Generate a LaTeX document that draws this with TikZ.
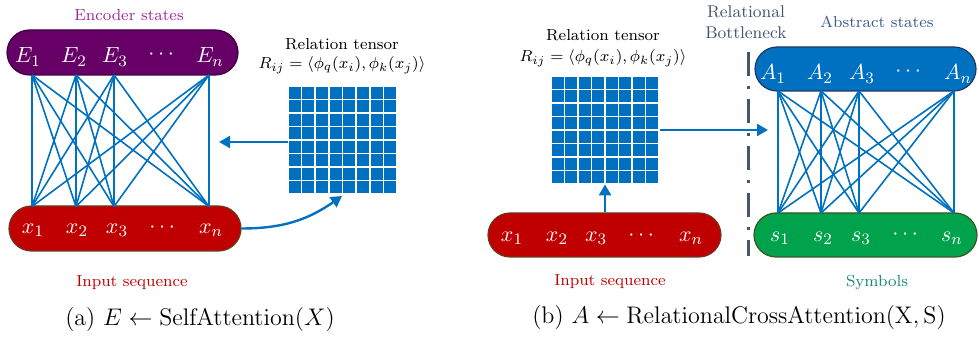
\documentclass[tikz,border=0pt]{standalone}
\usepackage{amsmath}
\usetikzlibrary{shapes.misc,arrows.meta}
\definecolor{encpurple}{HTML}{660066}
\definecolor{encborder}{HTML}{3F0040}
\definecolor{encText}{HTML}{9E2A9B}
\definecolor{inred}{HTML}{C00000}
\definecolor{inborder}{HTML}{6B3A1E}
\definecolor{lineblue}{HTML}{0070C0}
\definecolor{absblue}{HTML}{0070C0}
\definecolor{absborder}{HTML}{1F3864}
\definecolor{absText}{HTML}{3A5A8C}
\definecolor{symgreen}{HTML}{00A24C}
\definecolor{symborder}{HTML}{385723}
\definecolor{symText}{HTML}{178A6E}
\definecolor{bnText}{HTML}{44546A}
\tikzset{
  pill/.style={rounded rectangle, draw=#1, line width=0.6pt, inner sep=0pt},
  tok/.style={text=white, font=\fontsize{11}{13}\selectfont, inner sep=0pt},
  conn/.style={draw=lineblue, line width=0.8pt},
  arr/.style={draw=lineblue, line width=1.2pt, -{Triangle[length=5.5pt,width=6pt]}},
  lab/.style={font=\fontsize{8}{9.5}\selectfont, inner sep=0pt},
  captext/.style={font=\fontsize{12}{14}\selectfont, inner sep=0pt},
  cell/.style={fill=lineblue, draw=none},
  gridbox/.style={draw=none, minimum width=54.5pt, minimum height=54pt, inner sep=0pt}
}
\begin{document}
\begin{tikzpicture}[x=0.5pt,y=-0.5pt]
\useasboundingbox (0,0) rectangle (979,341);

% ---------- Panel (a) ----------
\node[lab, text=encText] (enclab) at (129,15) {Encoder states};
\node[pill=encborder, fill=encpurple, minimum width=115.5pt, minimum height=22.5pt] (enc) at (122.5,52.5) {};
\node[pill=inborder, fill=inred, minimum width=116pt, minimum height=22.5pt] (inA) at (125,228.5) {};
\node[tok] (E1) at (28,57) {$E_1$};
\node[tok] (E2) at (74,57) {$E_2$};
\node[tok] (E3) at (115,57) {$E_3$};
\node[tok] (Ed) at (163,55) {$\cdots$};
\node[tok] (En) at (210,57) {$E_n$};
\node[tok] (xa1) at (33,230) {$x_1$};
\node[tok] (xa2) at (77,230) {$x_2$};
\node[tok] (xa3) at (117,230) {$x_3$};
\node[tok] (xad) at (164,228) {$\cdots$};
\node[tok] (xan) at (211,230) {$x_n$};
\node[lab, text=inred] (inlabA) at (132,283) {Input sequence};

\foreach \i/\x in {1/32,2/76,3/114,4/209}{
  \coordinate (et\i) at (\x,75);
  \coordinate (eb\i) at (\x,206.5);
}
\foreach \i in {1,...,4}{\foreach \j in {1,...,4}{\draw[conn] (et\i) -- (eb\j);}}

\node[lab] (rtA) at (342,44) {Relation tensor};
\node[lab] (rfA) at (342,65) {$R_{ij}=\langle\phi_q(x_i),\phi_k(x_j)\rangle$};
\node[gridbox] (gA) at (342.5,140) {};
\foreach \r in {0,...,7}{\foreach \c in {0,...,7}{
  \fill[cell] (288+\c*13.625+0.8,86+\r*13.5+0.8) rectangle ++(12.0,11.9);}}
\coordinate (arrAend) at (219,142);
\draw[arr] (gA.west |- arrAend) -- (arrAend);
\coordinate (curveEnd) at (342,196);
\draw[arr] (inA.east) to[out=0,in=-145] (curveEnd);

\node[captext] (capA) at (200,320) {(a) $E \leftarrow \mathrm{SelfAttention}(X)$};

% ---------- Panel (b) ----------
\node[lab, text=bnText, align=center, font=\fontsize{8.5}{10.5}\selectfont] (bn) at (746,22) {Relational\\Bottleneck};
\coordinate (bnTop) at (748,52);
\coordinate (bnBot) at (748,256);
\draw[bnText, line width=1.5pt, dash pattern=on 12pt off 5pt on 1.5pt off 5pt] (bnTop) -- (bnBot);

\node[lab, text=absText] (abslab) at (877,22) {Abstract states};
\node[pill=absborder, fill=absblue, minimum width=110.5pt, minimum height=22pt] (abs) at (865.5,69) {};
\node[pill=symborder, fill=symgreen, minimum width=111.5pt, minimum height=22pt] (sym) at (865.5,235) {};
\node[pill=inborder, fill=inred, minimum width=116.5pt, minimum height=22pt] (inB) at (604.5,235) {};

\node[tok] (A1) at (773,74) {$A_1$};
\node[tok] (A2) at (820,74) {$A_2$};
\node[tok] (A3) at (862,74) {$A_3$};
\node[tok] (Ad) at (910,72) {$\cdots$};
\node[tok] (An) at (958,74) {$A_n$};
\node[tok] (s1) at (780,238) {$s_1$};
\node[tok] (s2) at (823,238) {$s_2$};
\node[tok] (s3) at (861,238) {$s_3$};
\node[tok] (sd) at (907,235) {$\cdots$};
\node[tok] (sn) at (952,238) {$s_n$};
\node[tok] (xb1) at (512,238) {$x_1$};
\node[tok] (xb2) at (557,238) {$x_2$};
\node[tok] (xb3) at (596,238) {$x_3$};
\node[tok] (xbd) at (643,236) {$\cdots$};
\node[tok] (xbn) at (691,238) {$x_n$};

\foreach \i/\x in {1/778,2/821,3/859,4/954}{
  \coordinate (at\i) at (\x,91);
  \coordinate (sb\i) at (\x,213);
}
\foreach \i in {1,...,4}{\foreach \j in {1,...,4}{\draw[conn] (at\i) -- (sb\j);}}

\node[lab, text=inred] (inlabB) at (610,282) {Input sequence};
\node[lab, text=symText] (symlab) at (877,283) {Symbols};

\node[lab] (rtB) at (603,35) {Relation tensor};
\node[lab] (rfB) at (603,58) {$R_{ij}=\langle\phi_q(x_i),\phi_k(x_j)\rangle$};
\node[gridbox] (gB) at (605,130) {};
\foreach \r in {0,...,7}{\foreach \c in {0,...,7}{
  \fill[cell] (551+\c*13.5+0.8,76+\r*13.5+0.8) rectangle ++(11.9,11.9);}}
\draw[arr] (inB.north -| gB.south) -- (gB.south);
\coordinate (arrBend) at (768,130);
\draw[arr] (gB.east) -- (arrBend);

\node[captext] (capB) at (739,318) {(b) $A \leftarrow \mathrm{RelationalCrossAttention}(\mathrm{X},\mathrm{S})$};
\end{tikzpicture}
\end{document}
